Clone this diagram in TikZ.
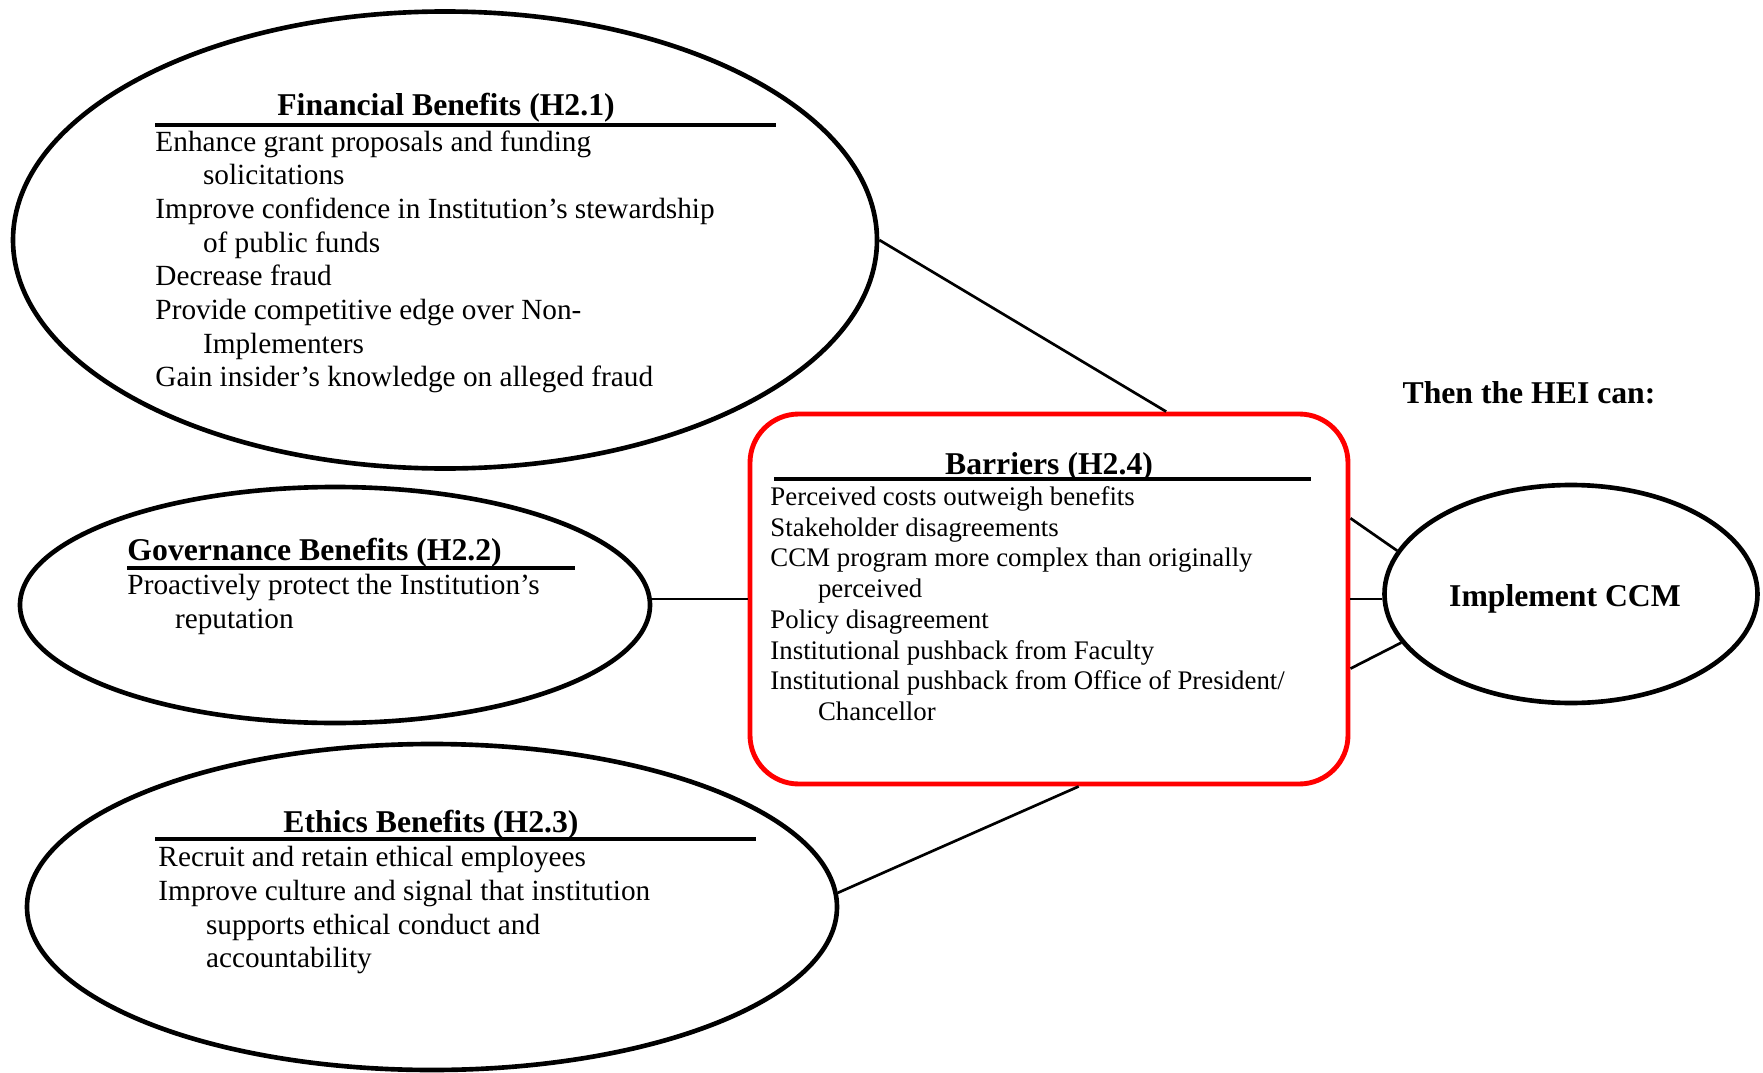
\documentclass[tikz,border=0pt]{standalone}
\usepackage{fontspec}
\setmainfont{Liberation Serif}
\usetikzlibrary{shapes.geometric}
\newcommand{\pxl}{0.41pt}
\newcommand{\cont}{\hspace*{19.5pt}}

\begin{document}
\begin{tikzpicture}[x=0.41pt, y=-0.41pt,
	oval/.style={draw, ellipse, line width=1.9pt, inner sep=0pt},
	barbox/.style={draw=red, line width=2pt, rounded corners=20pt, inner sep=0pt},
	title/.style={inner sep=0pt, font=\fontsize{13}{15}\selectfont\bfseries},
	body/.style={anchor=north west, inner sep=0pt, align=left, font=\fontsize{12}{13.8}\selectfont},
	smallbody/.style={body, font=\fontsize{11}{12.6}\selectfont},
	rule/.style={line width=1.5pt},
	link/.style={line width=1.1pt}]
		\useasboundingbox (0,0) rectangle (1763,1073);
		% shapes
		\node (fin) [oval, minimum width=864*\pxl, minimum height=457*\pxl] at (445,240) {};
		\node (gov) [oval, minimum width=630*\pxl, minimum height=236*\pxl] at (335,605) {};
		\node (eth) [oval, minimum width=810*\pxl, minimum height=326*\pxl] at (432,907) {};
		\node (bar) [barbox, minimum width=598*\pxl, minimum height=370*\pxl] at (1049,599) {};
		\node (impl) [oval, minimum width=373*\pxl, minimum height=218*\pxl] at (1571,594) {};
		% titles
		\node (fint) [title, anchor=base] at (446,116) {Financial Benefits (H2.1)};
		\node (govt) [title, anchor=base west] at (127,560) {Governance Benefits (H2.2)};
		\node (etht) [title, anchor=base] at (431,832) {Ethics Benefits (H2.3)};
		\node (bart) [title, anchor=base] at (1049,474) {Barriers (H2.4)};
		\node (then) [title, anchor=base] at (1529,403) {Then the HEI can:};
		\node (implt) [title, anchor=base] at (1565,606) {Implement CCM};
		\draw[rule] (155,125) -- (776,125);
		\draw[rule] (127,568) -- (575,568);
		\draw[rule] (155,839) -- (756,839);
		\draw[rule] (774,479) -- (1311,479);
		% lists
		\node (finl) [body] at (155,130) {Enhance grant proposals and funding\\\cont solicitations\\Improve confidence in Institution’s stewardship\\\cont of public funds\\Decrease fraud\\Provide competitive edge over Non-\\\cont Implementers\\Gain insider’s knowledge on alleged fraud};
		\node (govl) [body] at (127,574) {Proactively protect the Institution’s\\\cont reputation};
		\node (ethl) [body] at (158,846) {Recruit and retain ethical employees\\Improve culture and signal that institution\\\cont supports ethical conduct and\\\cont accountability};
		\node (barl) [smallbody] at (770,486) {Perceived costs outweigh benefits\\Stakeholder disagreements\\CCM program more complex than originally\\\cont perceived\\Policy disagreement\\Institutional pushback from Faculty\\Institutional pushback from Office of President/\\\cont Chancellor};
		% links
		\draw[link] (fin.east) -- (bar.58);
		\draw[link] (bar.west) -- (bar.west -| gov.east);
		\draw[link] (eth.2) -- (bar.279);
		\draw[link] (bar.15) -- (impl.166);
		\draw[link] (bar.east) -- (bar.east -| impl.west);
		\draw[link] (bar.347) -- (impl.196);
\end{tikzpicture}
\end{document}
